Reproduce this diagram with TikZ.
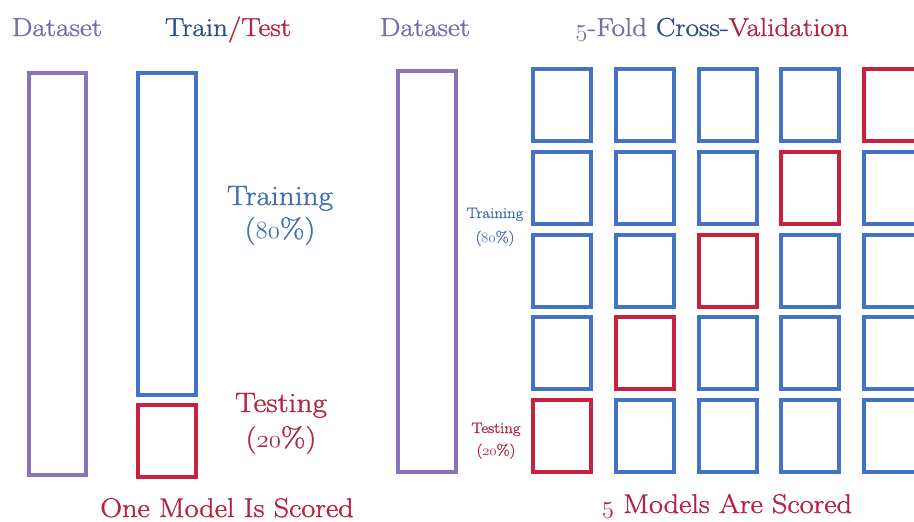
\documentclass[tikz,border=0pt]{standalone}
\usepackage{fontspec}
\setmainfont{Latin Modern Roman}[FakeStretch=1.12, FakeBold=1.2]
\usetikzlibrary{positioning}

\definecolor{dsPurple}{HTML}{8A74B8}
\definecolor{boxBlue}{HTML}{4472C4}
\definecolor{boxRed}{HTML}{C8203F}
\definecolor{txtPurple}{HTML}{7B6AA8}
\definecolor{txtBlue}{HTML}{2A4F8A}
\definecolor{txtLight}{HTML}{3F6FB5}
\definecolor{txtRed}{HTML}{B8203F}

\newcommand{\fsz}[1]{\fontsize{#1}{#1}\selectfont}
% old-style digits taken from the classic math italic font
\newcommand{\osf}[1]{{\usefont{OML}{cmm}{m}{it}#1}}

\tikzset{
  cell/.style={rectangle, draw, line width=4pt, inner sep=0pt, fill=none},
  bluecell/.style={cell, draw=boxBlue, minimum width=58pt, minimum height=72pt},
  redcell/.style={cell, draw=boxRed, minimum width=58pt, minimum height=72pt},
  title/.style={anchor=base, font=\fsz{26}},
  biglabel/.style={anchor=base, font=\fsz{28}},
  smalllabel/.style={anchor=base, font=\fsz{15}},
}

\begin{document}
\begin{tikzpicture}[x=1pt, y=-1pt]
  \useasboundingbox (0,0) rectangle (914,522);
  \clip (0,0) rectangle (914,522);
  \fill[white] (0,0) rectangle (914,522);

  % ---- hold-out split ----
  \node[title, text=txtPurple] (dsL) at (57,36) {Dataset};
  \node[title] (tt) at (228,36) {\textcolor{txtBlue}{Train}\textcolor{txtRed}{/Test}};

  \node[cell, draw=dsPurple, minimum width=57pt, minimum height=402pt] (dataL) at (57.5,274) {};
  \node[cell, draw=boxBlue, minimum width=58pt, minimum height=322pt] (train) at (167,234) {};
  \node[cell, draw=boxRed, minimum width=58pt, minimum height=72pt] (test) at (167,441) {};

  \node[biglabel, text=txtLight] (trL) at (280,205) {Training};
  \node[biglabel, text=txtLight] (trP) at (280,238) {(\osf{80}\%)};
  \node[biglabel, text=txtRed] (teL) at (281,412) {Testing};
  \node[biglabel, text=txtRed] (teP) at (281,447) {(\osf{20}\%)};

  \node[title, text=txtRed, font=\fsz{27}] (oneM) at (227,517) {One Model Is Scored};

  % ---- 5-fold cross-validation ----
  \node[title, text=txtPurple] (dsR) at (425,36) {Dataset};
  \node[title] (cv) at (712,36) {\textcolor{txtPurple}{\osf{5}-Fold} \textcolor{txtBlue}{Cross-}\textcolor{txtRed}{Validation}};

  \node[cell, draw=dsPurple, minimum width=58pt, minimum height=401pt] (dataR) at (427,271.5) {};

  \node[smalllabel, text=txtLight] (strL) at (495,218) {Training};
  \node[smalllabel, text=txtLight] (strP) at (495,242) {(\osf{80}\%)};
  \node[smalllabel, text=txtRed] (steL) at (496,433) {Testing};
  \node[smalllabel, text=txtRed] (steP) at (496,455) {(\osf{20}\%)};

  % fold grid: row r, column c; the test fold sits on the anti-diagonal
  \foreach \r in {1,...,5}{
    \foreach \c in {1,...,5}{
      \pgfmathsetmacro{\cx}{562 + (\c-1)*82.75}
      \pgfmathsetmacro{\cy}{105 + (\r-1)*82.75}
      \pgfmathtruncatemacro{\diag}{\r+\c}
      \ifnum\diag=6
        \node[redcell] (f\r\c) at (\cx,\cy) {};
      \else
        \node[bluecell] (f\r\c) at (\cx,\cy) {};
      \fi
    }
  }

  \node[title, text=txtRed, font=\fsz{27}] (fiveM) at (727,513) {\osf{5} Models Are Scored};
\end{tikzpicture}
\end{document}
